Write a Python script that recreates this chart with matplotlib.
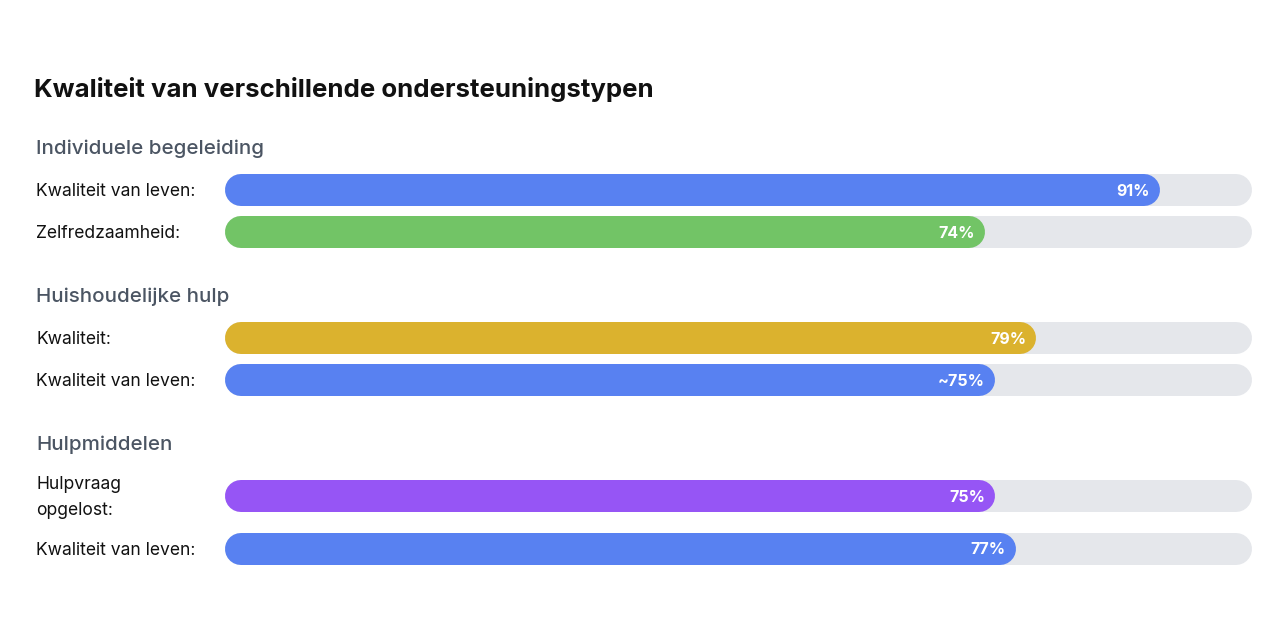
import matplotlib.pyplot as plt

# data
groups = ['Individuele begeleiding', 'Huishoudelijke hulp', 'Hulpmiddelen']
labels = [
    ['Kwaliteit van leven:', 'Zelfredzaamheid:'],
    ['Kwaliteit:', 'Kwaliteit van leven:'],
    ['Hulpvraag\nopgelost:', 'Kwaliteit van leven:'],
]
values = [[91, 74], [79, 75], [75, 77]]
value_text = [['91%', '74%'], ['79%', '~75%'], ['75%', '77%']]
colors = [['#5881f1', '#72c466'], ['#dbb22e', '#5881f1'], ['#9655f5', '#5881f1']]

title = 'Kwaliteit van verschillende ondersteuningstypen'

# layout in pixels (figure is 1280x640)
W, H = 1280, 640
header_y = [149, 297, 445]
bar_y = [[190, 232], [338, 380], [496, 549]]
bar_h = 32
track_left, track_right = 225, 1252

plt.rcParams['font.family'] = ['Inter', 'DejaVu Sans']

fig = plt.figure(figsize=(12.8, 6.4), dpi=100)
fig.patch.set_facecolor('white')

# text axes in pixel coords
tx = fig.add_axes([0, 0, 1, 1])
tx.set_xlim(0, W)
tx.set_ylim(H, 0)
tx.axis('off')

# bar axes covering the track region, 0..100 %
bx = fig.add_axes([track_left / W, 0, (track_right - track_left) / W, 1])
bx.set_xlim(0, 100)
bx.set_ylim(H, 0)
bx.axis('off')

px_per_unit = (track_right - track_left) / 100
r = bar_h / 2 / px_per_unit  # cap radius in % units
lw = bar_h * 72 / fig.dpi

tx.text(34, 89, title, fontsize=18.6, fontweight='bold', color='#111111',
        va='center', ha='left')

for g in range(len(groups)):
    tx.text(36, header_y[g], groups[g], fontsize=14.8, fontweight='medium',
            color='#4b5563', va='center', ha='left')
    for i in range(len(values[g])):
        y = bar_y[g][i]
        v = values[g][i]
        tx.text(36, y + 1.5, labels[g][i], fontsize=12.6, color='#111111',
                va='center', ha='left', linespacing=1.75)
        bx.plot([r, 100 - r], [y, y], color='#e5e7eb', lw=lw,
                solid_capstyle='round')
        bx.plot([r, v - r], [y, y], color=colors[g][i], lw=lw,
                solid_capstyle='round')
        bx.text(v - 1.0, y + 1, value_text[g][i], fontsize=11.5,
                fontweight='bold', color='white', va='center', ha='right')

fig.savefig('out.png', dpi=100)
